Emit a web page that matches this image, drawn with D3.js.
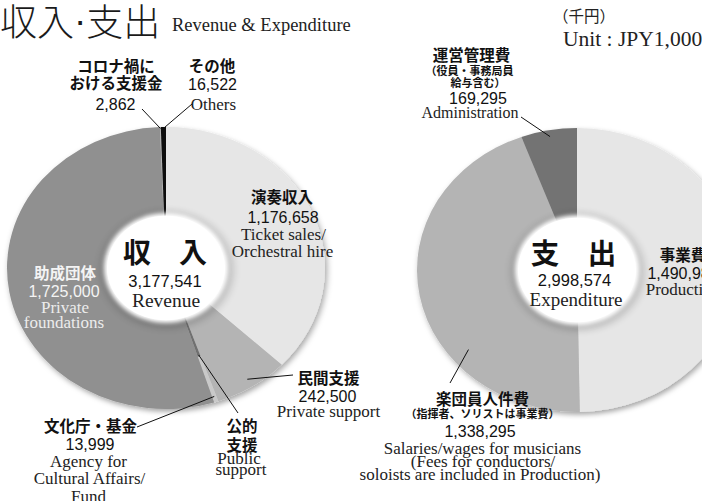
<!DOCTYPE html>
<html>
<head>
<meta charset="utf-8">
<script src="https://cdn.jsdelivr.net/npm/d3@7"></script>
<style>
  body { margin: 0; background: #fff; }
  svg { display: block; }
  .jp { font-family: 'Noto Sans CJK JP', sans-serif; font-weight: 700; }
  .num { font-family: 'Liberation Sans', Arial, sans-serif; }
  .serif { font-family: 'Liberation Serif', 'Times New Roman', serif; }
</style>
</head>
<body>
<div id="chart"></div>
<script>
// revenue (clockwise from 12 o'clock)
const revenueCategories = ['演奏収入', '民間支援', '文化庁・基金', '助成団体', 'コロナ禍における支援金', 'その他'];
const revenueValues = [1176658, 242500, 13999, 1725000, 2862, 16522];

// expenditure
const expenditureCategories = ['事業費', '楽団員人件費', '運営管理費'];
const expenditureValues = [1490984, 1338295, 169295];

const W = 702, H = 501;
const SY = 0.887; // the pies are drawn as tilted ellipses
const fmt = d3.format(',');

const svg = d3.select('#chart').append('svg')
  .attr('width', W)
  .attr('height', H);

const defs = svg.append('defs');
const shadow = defs.append('filter').attr('id', 'shadow')
  .attr('x', '-10%').attr('y', '-10%').attr('width', '130%').attr('height', '130%');
shadow.append('feDropShadow')
  .attr('dx', 2).attr('dy', 3).attr('stdDeviation', 3)
  .attr('flood-color', '#000').attr('flood-opacity', 0.35);
defs.append('filter').attr('id', 'soft')
  .attr('x', '-20%').attr('y', '-20%').attr('width', '140%').attr('height', '140%')
  .append('feGaussianBlur').attr('stdDeviation', 2.2);
defs.append('filter').attr('id', 'halo')
  .attr('x', '-30%').attr('y', '-30%').attr('width', '160%').attr('height', '160%')
  .append('feGaussianBlur').attr('stdDeviation', 4);

function drawDonut(cats, vals, colors, cx, cy, R, hole) {
  const color = d3.scaleOrdinal().domain(cats).range(colors);
  const pie = d3.pie().sort(null).value(d => d.value);
  const arcs = pie(cats.map((c, i) => ({ cat: c, value: vals[i] })));
  const arc = d3.arc().innerRadius(0).outerRadius(R);

  const g = svg.append('g')
    .attr('transform', `translate(${cx},${cy}) scale(1,${SY})`);

  g.append('g').attr('filter', 'url(#shadow)')
    .selectAll('path')
    .data(arcs)
    .enter().append('path')
    .attr('d', arc)
    .attr('fill', d => color(d.data.cat));

  // hole in the middle
  g.append('circle').attr('r', hole + 4).attr('cx', 1).attr('cy', 2)
    .attr('fill', '#000').attr('opacity', 0.18).attr('filter', 'url(#halo)');
  g.append('circle').attr('r', hole).attr('fill', '#fff').attr('filter', 'url(#soft)');
  g.append('circle').attr('r', hole - 3).attr('fill', '#fff');

  // point on a slice, in page coordinates
  const anchor = (i, t, k) => {
    const a = arcs[i].startAngle + t * (arcs[i].endAngle - arcs[i].startAngle);
    return [cx + k * R * Math.sin(a), cy - SY * k * R * Math.cos(a)];
  };
  return { g, arcs, anchor, R };
}

// ---------- revenue donut ----------
const rev = drawDonut(revenueCategories, revenueValues,
  ['#e6e6e6', '#b4b4b4', '#c9c9c9', '#909090', '#b2b2b2', '#111111'],
  166, 268, 159, 62);
// darker inner part of the thin public-support slice
rev.g.insert('path', 'circle')
  .attr('d', d3.arc().innerRadius(0).outerRadius(rev.R * 0.66)(rev.arcs[2]))
  .attr('fill', '#707070');

// ---------- expenditure donut ----------
const exp = drawDonut(expenditureCategories, expenditureValues,
  ['#e6e6e6', '#b4b4b4', '#737373'],
  577, 270, 160, 62);

// ---------- leader lines ----------
function leader(from, to) {
  svg.append('line')
    .attr('x1', from[0]).attr('y1', from[1])
    .attr('x2', to[0]).attr('y2', to[1])
    .attr('stroke', '#111').attr('stroke-width', 1);
}
leader([142, 109], rev.anchor(4, 0.5, 0.99));
leader([192, 104], rev.anchor(5, 0.5, 0.99));
leader([293, 375], rev.anchor(1, 0.5, 0.94));
leader([137, 427], rev.anchor(2, 0.5, 0.96));
leader([238, 413], rev.anchor(2, 0.5, 0.65));
leader([521, 117], exp.anchor(2, 0.5, 0.955));
leader([450, 383], exp.anchor(1, 0.32, 0.88));

// ---------- text ----------
function jp(str, x, y, size, fill, anchor) {
  return svg.append('text').attr('class', 'jp')
    .attr('x', x).attr('y', y)
    .attr('dominant-baseline', 'central')
    .attr('text-anchor', anchor || 'middle')
    .attr('font-size', size || 15.5)
    .attr('fill', fill || '#111')
    .text(str);
}
function num(str, x, y, size, fill) {
  return svg.append('text').attr('class', 'num')
    .attr('x', x).attr('y', y)
    .attr('text-anchor', 'middle')
    .attr('font-size', size || 16)
    .attr('fill', fill || '#111')
    .text(str);
}
function serif(str, x, y, size, fill, anchor) {
  return svg.append('text').attr('class', 'serif')
    .attr('x', x).attr('y', y)
    .attr('text-anchor', anchor || 'middle')
    .attr('font-size', size || 17)
    .attr('fill', fill || '#222')
    .text(str);
}

// title
const title = svg.append('text')
  .attr('x', 0).attr('y', 20)
  .attr('dominant-baseline', 'central')
  .attr('font-size', 37)
  .attr('fill', '#1a1a1a')
  .style('font-family', "'Noto Sans CJK JP', sans-serif")
  .style('font-weight', 300);
title.append('tspan').text('収入');
title.append('tspan').style('font-family', "'Liberation Sans', Arial, sans-serif").text('·');
title.append('tspan').text('支出');
serif('Revenue & Expenditure', 172, 31, 18.5, '#222', 'start');
jp('（千円）', 553, 15, 15.5, '#222', 'start').style('font-weight', 400);
serif('Unit : JPY1,000', 563, 45.5, 21.5, '#222', 'start');

// revenue labels
jp('コロナ禍に', 116, 65);
jp('おける支援金', 116, 81.5);
num(fmt(revenueValues[4]), 115.5, 110);

jp('その他', 212, 65);
num(fmt(revenueValues[5]), 212.5, 90);
serif('Others', 213.5, 109.5);

jp('演奏収入', 282, 196);
num(fmt(revenueValues[0]), 283, 223);
serif('Ticket sales/', 283.5, 239.5);
serif('Orchestral hire', 282.5, 256.5);

jp('収　入', 165, 251, 28);
num(fmt(d3.sum(revenueValues)), 165, 287, 16.5);
serif('Revenue', 166, 306.5, 19.5);

jp('助成団体', 65, 271.5, 15.5, '#f4f4f4');
num(fmt(revenueValues[3]), 64, 297, 16, '#f4f4f4');
serif('Private', 65, 313, 17, '#ececec');
serif('foundations', 64, 328, 17, '#ececec');

jp('民間支援', 328.5, 376.5);
num(fmt(revenueValues[1]), 327.5, 402);
serif('Private support', 328.5, 416.5);

jp('文化庁・基金', 90.5, 425);
num(fmt(revenueValues[2]), 90, 450);
serif('Agency for', 88.5, 467);
serif('Cultural Affairs/', 89.5, 483.5);
serif('Fund', 88.5, 501.5);

jp('公的', 242, 425);
jp('支援', 242, 443.5);
serif('Public', 239, 464);
serif('support', 241, 474.5);

// expenditure labels
jp('運営管理費', 471.5, 53.5);
jp('（役員・事務局員', 469.5, 70, 11);
jp('給与含む）', 478, 82, 11);
num(fmt(expenditureValues[2]), 478, 103.5);
serif('Administration', 470, 117.5, 16);

jp('支　出', 573.5, 251, 28.5);
num(fmt(d3.sum(expenditureValues)), 574.5, 286, 16.5);
serif('Expenditure', 576, 305.5, 19);

jp('事業費', 683, 253.5);
num(fmt(expenditureValues[0]), 683, 278.5);
serif('Production', 683, 294.5);

jp('楽団員人件費', 482.5, 397.5);
jp('（指揮者、ソリストは事業費）', 482.5, 413, 11);
num(fmt(expenditureValues[1]), 480, 436.5);
serif('Salaries/wages for musicians', 482.5, 454);
serif('(Fees for conductors/', 483, 467);
serif('soloists are included in Production)', 480, 479.5);
</script>
</body>
</html>
